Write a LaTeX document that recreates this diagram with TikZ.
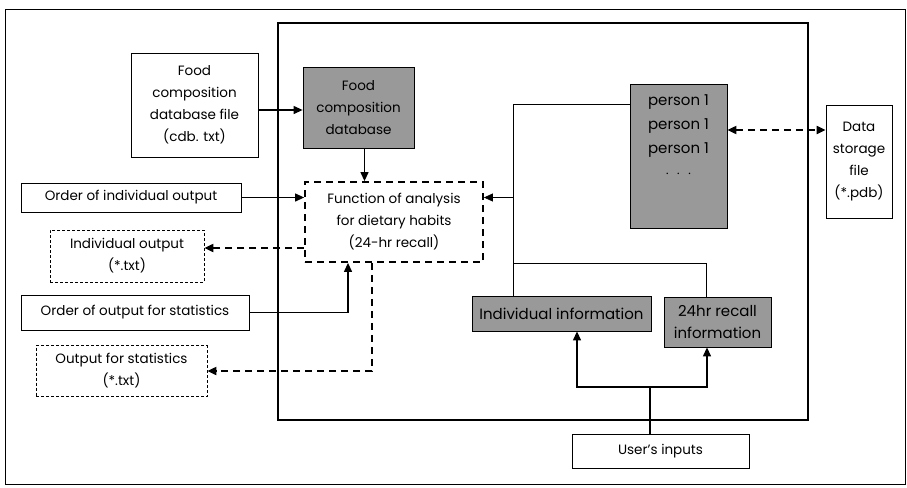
\documentclass[tikz,border=0pt]{standalone}
\usepackage{fontspec}
\setmainfont{Poppins}
\usetikzlibrary{positioning, arrows.meta, calc}

\begin{document}
\begin{tikzpicture}[
        x=1pt, y=-1pt,
        >={Triangle[length=9pt,width=8pt]},
        font=\fontsize{13.5}{22}\selectfont,
        box/.style={draw, line width=0.8pt, align=center, inner sep=1pt},
        outbox/.style={box, dash pattern=on 3pt off 2pt},
        funcbox/.style={box, line width=1.8pt, dash pattern=on 7pt off 5pt},
        greybox/.style={box, fill=black!40},
        link/.style={line width=0.8pt},
        flow/.style={line width=1.2pt, ->},
        dflow/.style={line width=2pt, dash pattern=on 7pt off 5pt, ->},
    ]
    \useasboundingbox (0,0) rectangle (907,487);

    % Outer frame and the program box
    \draw[line width=0.8pt] (5,9) rectangle (905,484);
    \node[box, line width=1.2pt, minimum width=530pt, minimum height=397pt] (sys) at (543,221.5) {};

    % Files and orders outside the program
    \node[box, minimum width=127pt, minimum height=104pt] (cdbfile) at (194.5,105)
        {Food\\composition\\database file\\(cdb. txt)};
    \node[box, minimum width=220pt, minimum height=29pt] (ordind) at (131,197.5)
        {Order of individual output};
    \node[outbox, minimum width=154pt, minimum height=52pt] (indout) at (127,256)
        {Individual output\\(*.txt)};
    \node[box, minimum width=228pt, minimum height=35pt] (ordstat) at (135,312.5)
        {Order of output for statistics};
    \node[outbox, minimum width=171pt, minimum height=51pt] (statout) at (121.5,371)
        {Output for statistics\\(*.txt)};
    \node[box, minimum width=66pt, minimum height=113pt] (storage) at (859,161.5)
        {Data\\storage\\file\\(*.pdb)};
    \node[box, minimum width=177pt, minimum height=34pt] (user) at (660.5,451)
        {User's inputs};

    % Parts of the program
    \node[greybox, minimum width=111pt, minimum height=81pt] (cdb) at (358.5,107.5)
        {Food\\composition\\database};
    \node[funcbox, minimum width=178pt, minimum height=80pt] (func) at (394,222)
        {Function of analysis\\for dietary habits\\(24-hr recall)};
    \node[greybox, minimum width=97pt, minimum height=144pt, align=center,
          font=\fontsize{15}{24}\selectfont] (person) at (678.5,156)
        {person 1\\person 1\\person 1\\$\cdot\;\cdot\;\cdot$\\[16pt]};
    \node[greybox, minimum width=179pt, minimum height=35pt,
          font=\fontsize{15}{22}\selectfont] (indinfo) at (561.5,313.5)
        {Individual information};
    \node[greybox, minimum width=107pt, minimum height=50pt,
          font=\fontsize{15}{22}\selectfont] (recall) at (717.5,322)
        {24hr recall\\information};

    % Inputs into the analysis function
    \draw[flow] (cdbfile.east |- 0,110) -- (cdb.west |- 0,110);
    \draw[flow] ([xshift=6pt]cdb.south) -- ([xshift=6pt]cdb.south |- func.north);
    \draw[flow] (ordind.east) -- (ordind.east -| func.west);
    \draw[flow] (ordstat.east) -| ([xshift=-46pt]func.south);

    % Outputs of the analysis function
    \draw[dflow] ([yshift=8pt]indout.east -| func.west) -- ([yshift=8pt]indout.east);
    \draw[dflow] ([xshift=-22pt]func.south) |- (statout.east);

    % Stored persons and their information
    \coordinate (bus) at ([xshift=-48.5pt]indinfo.north);
    \draw[dflow, <->] ([yshift=26pt]person.east) -- ([yshift=26pt]person.east -| storage.west);
    \draw[link] ([yshift=52pt]person.west) -| (bus);
    \draw[link, ->] (bus |- ordind.east) -- (ordind.east -| func.east);
    \draw[link] (bus |- 0,263) -| ([xshift=-11.5pt]recall.north);

    % User's inputs
    \coordinate (fork) at (650,387);
    \draw[flow, -] ([xshift=-10.5pt]user.north) -- (fork);
    \draw[flow] (fork) -| ([xshift=15.5pt]indinfo.south);
    \draw[flow] (fork) -| ([xshift=-10.5pt]recall.south);
\end{tikzpicture}
\end{document}
